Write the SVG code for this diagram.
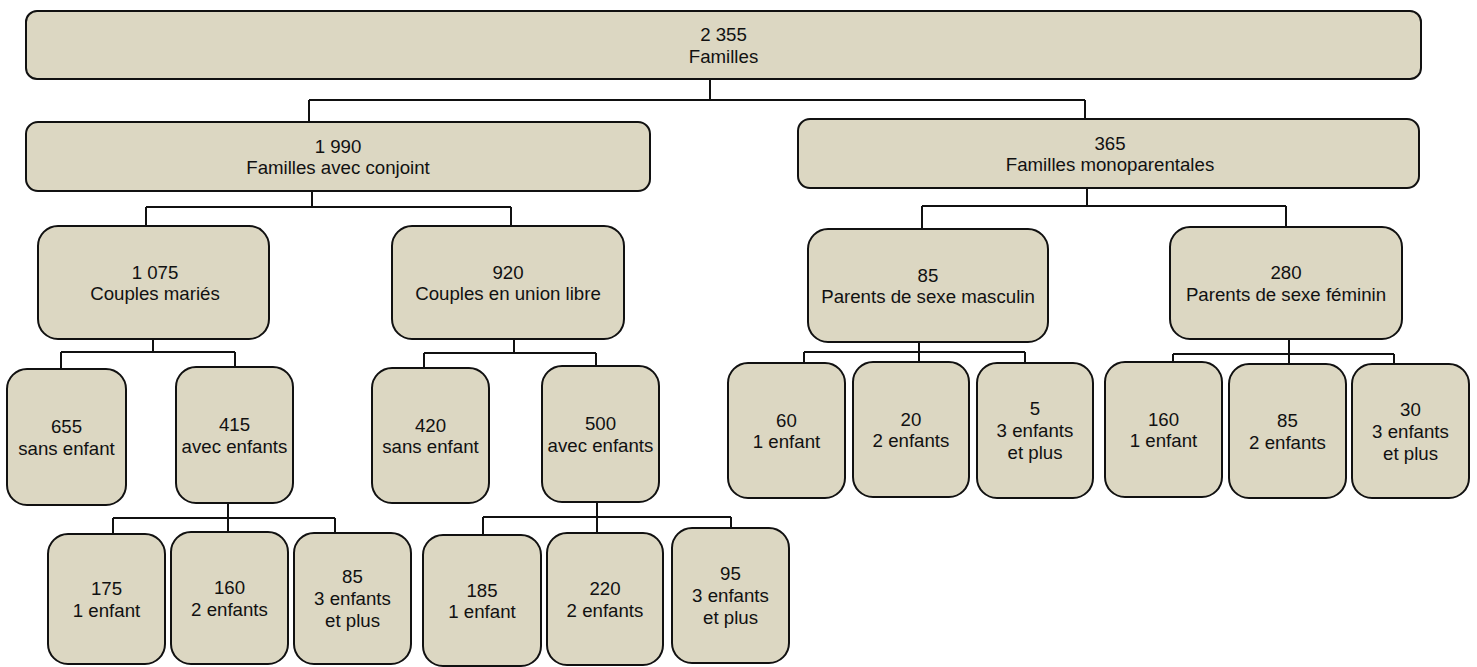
<svg xmlns="http://www.w3.org/2000/svg" width="1477" height="667" viewBox="0 0 1477 667">
<style>
.b{fill:#DCD7C2;stroke:#111;stroke-width:2}
.t{font-family:"Liberation Sans",Arial,sans-serif;font-size:18.67px;fill:#111;text-anchor:middle}
.c{fill:none;stroke:#111;stroke-width:2}
</style>
<rect width="1477" height="667" fill="#fff"/>
<g id="connectors">
<path class="c" d="M710,79V100M309,100H1085M309,100V122M1085,100V119"/>
<path class="c" d="M312,191V207M146,207H511M146,207V226M511,207V226"/>
<path class="c" d="M1087,188V206M922,206H1286M922,206V229M1286,206V227"/>
<path class="c" d="M153,339V352M61,352H235M61,352V369M235,352V367"/>
<path class="c" d="M514,339V353M424,353H596M424,353V368M596,353V366"/>
<path class="c" d="M228,503V532M113,518H335M113,518V534M335,518V533"/>
<path class="c" d="M597,502V533M483,517H731M483,517V535M731,517V528"/>
<path class="c" d="M919,337V363M804,352H1025M804,352V363M1025,352V363"/>
<path class="c" d="M1289,339V364M1173,354H1394M1173,354V362M1394,354V364"/>
</g>
<g id="n-total"><rect class="b" x="26" y="11" width="1395" height="68" rx="11"/><text class="t" x="723.5" y="41">2 355</text><text class="t" x="723.5" y="62.5">Familles</text></g>
<g id="n-conjoint"><rect class="b" x="26" y="122" width="624" height="69" rx="12"/><text class="t" x="338" y="152.5">1 990</text><text class="t" x="338" y="174">Familles avec conjoint</text></g>
<g id="n-mono"><rect class="b" x="798" y="119" width="621" height="69" rx="12"/><text class="t" x="1110" y="149.5">365</text><text class="t" x="1110" y="171">Familles monoparentales</text></g>
<g id="n-maries"><rect class="b" x="38" y="226" width="231" height="113" rx="20"/><text class="t" x="155" y="278.5">1 075</text><text class="t" x="155" y="300">Couples mariés</text></g>
<g id="n-union"><rect class="b" x="392" y="226" width="232" height="113" rx="20"/><text class="t" x="508" y="278.5">920</text><text class="t" x="508" y="300">Couples en union libre</text></g>
<g id="n-masc"><rect class="b" x="808" y="229" width="240" height="113" rx="20"/><text class="t" x="928" y="281.5">85</text><text class="t" x="928" y="303">Parents de sexe masculin</text></g>
<g id="n-fem"><rect class="b" x="1170" y="227" width="232" height="112" rx="20"/><text class="t" x="1286" y="279">280</text><text class="t" x="1286" y="300.5">Parents de sexe féminin</text></g>
<g id="n-m-sans"><rect class="b" x="7" y="369" width="119" height="136" rx="20"/><text class="t" x="66.5" y="433">655</text><text class="t" x="66.5" y="454.5">sans enfant</text></g>
<g id="n-m-avec"><rect class="b" x="176" y="367" width="117" height="136" rx="20"/><text class="t" x="234.5" y="431">415</text><text class="t" x="234.5" y="452.5">avec enfants</text></g>
<g id="n-u-sans"><rect class="b" x="372" y="368" width="117" height="135" rx="20"/><text class="t" x="430.5" y="431.5">420</text><text class="t" x="430.5" y="453">sans enfant</text></g>
<g id="n-u-avec"><rect class="b" x="542" y="366" width="117" height="136" rx="20"/><text class="t" x="600.5" y="430">500</text><text class="t" x="600.5" y="451.5">avec enfants</text></g>
<g id="n-m-1"><rect class="b" x="48" y="534" width="117" height="130" rx="20"/><text class="t" x="106.5" y="595">175</text><text class="t" x="106.5" y="616.5">1 enfant</text></g>
<g id="n-m-2"><rect class="b" x="171" y="532" width="117" height="132" rx="20"/><text class="t" x="229.5" y="594">160</text><text class="t" x="229.5" y="615.5">2 enfants</text></g>
<g id="n-m-3"><rect class="b" x="294" y="533" width="117" height="131" rx="20"/><text class="t" x="352.5" y="583">85</text><text class="t" x="352.5" y="605">3 enfants</text><text class="t" x="352.5" y="627">et plus</text></g>
<g id="n-u-1"><rect class="b" x="423" y="535" width="118" height="131" rx="20"/><text class="t" x="482" y="596.5">185</text><text class="t" x="482" y="618">1 enfant</text></g>
<g id="n-u-2"><rect class="b" x="547" y="533" width="116" height="132" rx="20"/><text class="t" x="605" y="595">220</text><text class="t" x="605" y="616.5">2 enfants</text></g>
<g id="n-u-3"><rect class="b" x="672" y="528" width="117" height="135" rx="20"/><text class="t" x="730.5" y="580">95</text><text class="t" x="730.5" y="602">3 enfants</text><text class="t" x="730.5" y="624">et plus</text></g>
<g id="n-h-1"><rect class="b" x="728" y="363" width="117" height="135" rx="20"/><text class="t" x="786.5" y="426.5">60</text><text class="t" x="786.5" y="448">1 enfant</text></g>
<g id="n-h-2"><rect class="b" x="853" y="362" width="116" height="135" rx="20"/><text class="t" x="911" y="425.5">20</text><text class="t" x="911" y="447">2 enfants</text></g>
<g id="n-h-3"><rect class="b" x="977" y="363" width="116" height="135" rx="20"/><text class="t" x="1035" y="415">5</text><text class="t" x="1035" y="437">3 enfants</text><text class="t" x="1035" y="459">et plus</text></g>
<g id="n-f-1"><rect class="b" x="1105" y="362" width="117" height="135" rx="20"/><text class="t" x="1163.5" y="425.5">160</text><text class="t" x="1163.5" y="447">1 enfant</text></g>
<g id="n-f-2"><rect class="b" x="1229" y="364" width="117" height="134" rx="20"/><text class="t" x="1287.5" y="427">85</text><text class="t" x="1287.5" y="448.5">2 enfants</text></g>
<g id="n-f-3"><rect class="b" x="1352" y="364" width="117" height="134" rx="20"/><text class="t" x="1410.5" y="415.5">30</text><text class="t" x="1410.5" y="437.5">3 enfants</text><text class="t" x="1410.5" y="459.5">et plus</text></g>
</svg>
